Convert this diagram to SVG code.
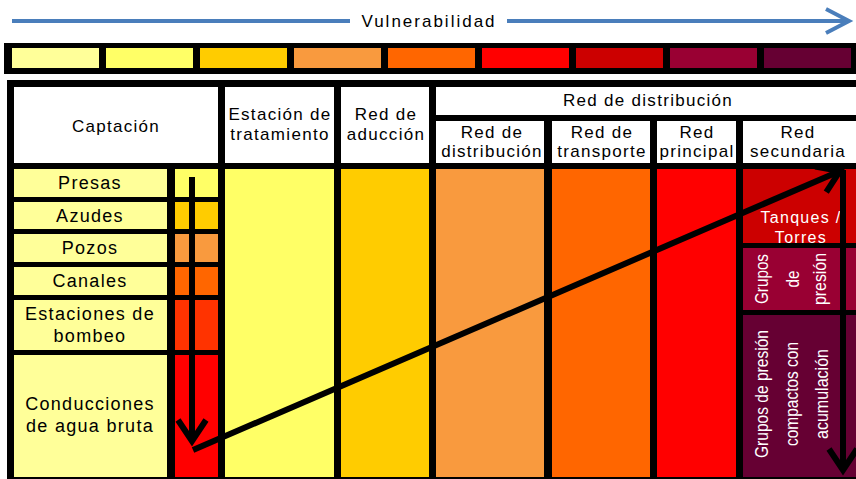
<svg xmlns="http://www.w3.org/2000/svg" width="856" height="479" viewBox="0 0 856 479">
<style>
.t{font-family:"Liberation Sans",Arial,sans-serif;font-size:17px;letter-spacing:1.3px;text-anchor:middle;fill:#000}
.l{font-size:18px}
.w{fill:#fff}
.r{font-family:"Liberation Sans Narrow","Liberation Sans",Arial,sans-serif;font-size:19px;text-anchor:middle;fill:#fff}
.blk{fill:#000}
.wh{fill:#fff}
.c1{fill:#FFFF99}.c2{fill:#FFFF66}.c3{fill:#FFCC00}.c4{fill:#F99A3E}.c5{fill:#FF6600}.c6{fill:#FF0000}.c7{fill:#CC0000}.c8{fill:#990033}.c9{fill:#660033}.c5b{fill:#FF3300}
.bl{stroke:#4A7EBB;stroke-width:4;fill:none}
.ar{stroke:#000;stroke-width:6;fill:none}
</style>
<defs>
<marker id="ah" markerUnits="userSpaceOnUse" viewBox="-26 -18 30 36" refX="0" refY="0" markerWidth="30" markerHeight="36" orient="auto" overflow="visible">
<path d="M-21,-14 L0,0 L-21,14" fill="none" stroke="#000" stroke-width="6" stroke-linejoin="miter"/>
</marker>
</defs>
<rect width="856" height="479" fill="#fff"/>

<g id="vulnerabilidad">
<line class="bl" x1="12" y1="21" x2="350" y2="21"/>
<line class="bl" x1="507" y1="21" x2="848" y2="21"/>
<polyline class="bl" points="826,9 849,21 826,33"/>
<text class="t" x="429" y="27" style="letter-spacing:2px">Vulnerabilidad</text>
</g>

<g id="escala">
<rect class="blk" x="4" y="43" width="852" height="31"/>
<rect class="c1" x="12" y="48" width="87" height="20"/>
<rect class="c2" x="106" y="48" width="87" height="20"/>
<rect class="c3" x="200" y="48" width="87" height="20"/>
<rect class="c4" x="294" y="48" width="87" height="20"/>
<rect class="c5" x="388" y="48" width="87" height="20"/>
<rect class="c6" x="482" y="48" width="87" height="20"/>
<rect class="c7" x="576" y="48" width="87" height="20"/>
<rect class="c8" x="670" y="48" width="87" height="20"/>
<rect class="c9" x="764" y="48" width="87" height="20"/>
</g>

<rect class="blk" x="7" y="80" width="849" height="399"/>

<g id="captacion">
<rect class="wh" x="14" y="87" width="204" height="76"/>
<text class="t" x="116" y="132">Captación</text>
</g>
<g id="presas">
<rect class="c1" x="14" y="169" width="153" height="28"/>
<rect class="c2" x="175" y="169" width="43" height="28"/>
<text class="t l" x="90" y="189">Presas</text>
</g>
<g id="azudes">
<rect class="c1" x="14" y="202" width="153" height="27"/>
<rect class="c3" x="175" y="202" width="43" height="27"/>
<text class="t l" x="90" y="222">Azudes</text>
</g>
<g id="pozos">
<rect class="c1" x="14" y="234" width="153" height="28"/>
<rect class="c4" x="175" y="234" width="43" height="28"/>
<text class="t l" x="90" y="254">Pozos</text>
</g>
<g id="canales">
<rect class="c1" x="14" y="267" width="153" height="28"/>
<rect class="c5" x="175" y="267" width="43" height="28"/>
<text class="t l" x="90" y="287">Canales</text>
</g>
<g id="bombeo">
<rect class="c1" x="14" y="300" width="153" height="50"/>
<rect class="c5b" x="175" y="300" width="43" height="50"/>
<text class="t l" x="90" y="320">Estaciones de</text>
<text class="t l" x="90" y="342">bombeo</text>
</g>
<g id="conducciones">
<rect class="c1" x="14" y="355" width="153" height="122"/>
<rect class="c6" x="175" y="355" width="43" height="122"/>
<text class="t l" x="90" y="410">Conducciones</text>
<text class="t l" x="90" y="432">de agua bruta</text>
</g>

<g id="estacion">
<rect class="wh" x="225" y="87" width="109" height="76"/>
<rect class="c2" x="225" y="169" width="109" height="308"/>
<text class="t" x="280" y="120">Estación de</text>
<text class="t" x="280" y="140">tratamiento</text>
</g>
<g id="aduccion">
<rect class="wh" x="341" y="87" width="88" height="76"/>
<rect class="c3" x="341" y="169" width="88" height="308"/>
<text class="t" x="386" y="120">Red de</text>
<text class="t" x="386" y="140">aducción</text>
</g>

<g id="red-distribucion-header">
<rect class="wh" x="436" y="87" width="420" height="28"/>
<text class="t" x="648" y="106">Red de distribución</text>
</g>
<g id="distribucion">
<rect class="wh" x="436" y="121" width="108" height="42"/>
<rect class="c4" x="436" y="169" width="108" height="308"/>
<text class="t" x="492" y="138">Red de</text>
<text class="t" x="492" y="157">distribución</text>
</g>
<g id="transporte">
<rect class="wh" x="552" y="121" width="98" height="42"/>
<rect class="c5" x="552" y="169" width="98" height="308"/>
<text class="t" x="602" y="138">Red de</text>
<text class="t" x="602" y="157">transporte</text>
</g>
<g id="principal">
<rect class="wh" x="657" y="121" width="79" height="42"/>
<rect class="c6" x="657" y="169" width="79" height="308"/>
<text class="t" x="697" y="138">Red</text>
<text class="t" x="697" y="157">principal</text>
</g>
<g id="secundaria">
<rect class="wh" x="743" y="121" width="113" height="42"/>
<text class="t" x="798" y="138">Red</text>
<text class="t" x="798" y="157">secundaria</text>
</g>
<g id="tanques">
<rect class="c7" x="743" y="169" width="113" height="74"/>
<text class="t w" x="801" y="223" style="font-size:16px">Tanques /</text>
<text class="t w" x="801" y="243" style="font-size:16px">Torres</text>
</g>
<g id="grupos">
<rect class="c8" x="743" y="248" width="113" height="62"/>
<g transform="translate(0,279)">
<text class="r" transform="translate(768,0) rotate(-90)" textLength="50" lengthAdjust="spacingAndGlyphs">Grupos</text>
<text class="r" transform="translate(799,0) rotate(-90)" textLength="17" lengthAdjust="spacingAndGlyphs">de</text>
<text class="r" transform="translate(826,0) rotate(-90)" textLength="52" lengthAdjust="spacingAndGlyphs">presión</text>
</g>
</g>
<g id="compactos">
<rect class="c9" x="743" y="315" width="113" height="162"/>
<g transform="translate(0,394)">
<text class="r" transform="translate(768,0) rotate(-90)" textLength="128" lengthAdjust="spacingAndGlyphs">Grupos de presión</text>
<text class="r" transform="translate(798,0) rotate(-90)" textLength="104" lengthAdjust="spacingAndGlyphs">compactos con</text>
<text class="r" transform="translate(828,0) rotate(-90)" textLength="90" lengthAdjust="spacingAndGlyphs">acumulación</text>
</g>
</g>

<g id="connectors">
<line class="ar" x1="192" y1="177" x2="192" y2="441" marker-end="url(#ah)"/>
<line class="ar" x1="193" y1="450" x2="840" y2="171" marker-end="url(#ah)"/>
<line class="ar" x1="843" y1="170" x2="843" y2="470" marker-end="url(#ah)"/>
</g>
</svg>
